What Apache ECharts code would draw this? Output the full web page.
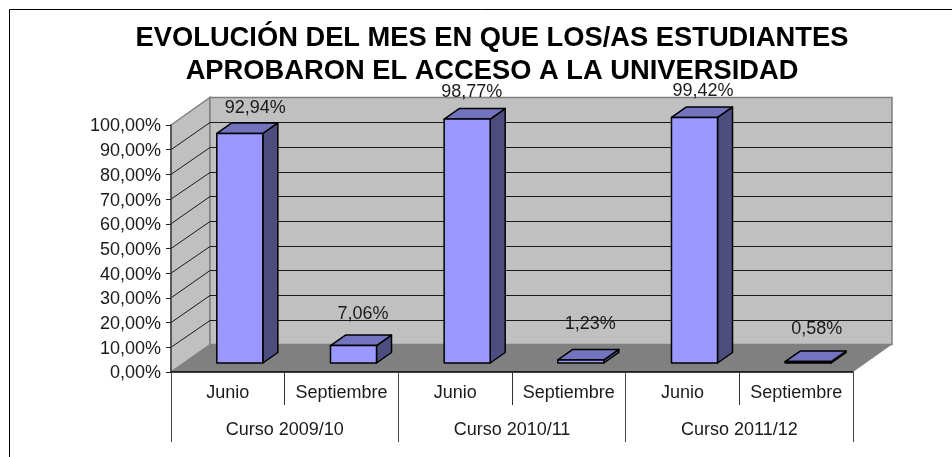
<!DOCTYPE html>
<html>
<head>
<meta charset="utf-8">
<style>
  html, body { margin: 0; padding: 0; background: #fff; }
  #main { width: 952px; height: 457px; }
</style>
<script src="https://cdn.jsdelivr.net/npm/echarts@6/dist/echarts.min.js"></script>
</head>
<body>
<div id="main"></div>
<script>
var meses = ['Junio', 'Septiembre', 'Junio', 'Septiembre', 'Junio', 'Septiembre'];
var cursos = ['Curso 2009/10', 'Curso 2010/11', 'Curso 2011/12'];
var valores = [92.94, 7.06, 98.77, 1.23, 99.42, 0.58];
var marcasY = [0, 10, 20, 30, 40, 50, 60, 70, 80, 90, 100];

var fuente = '"Liberation Sans", Arial, sans-serif';

// profundidad del "3D" en pixeles
var fondoX = 39, fondoY = -27.5;
var barraX = 12, barraY = -9;
var cuboX = 15, cuboY = -10.5;
var anchoBarra = 0.405; // fraccion del hueco de categoria

// ajuste a mano de las etiquetas, Excel no las centra igual
var ajusteEtiqueta = [[8, 2], [2, -5], [-3, 0], [2, -9], [1, 1], [1, -6]];

var chart = echarts.init(document.getElementById('main'));

function numero(v) {
    return v.toFixed(2).replace('.', ',') + '%';
}

function pintarParedes(params, api) {
    var g = params.coordSys;
    var v = api.value(0);
    var y = api.coord([0, v])[1];
    var der = g.x + g.width;
    var hijos = [];
    if (params.dataIndex === 0) {
        var arriba = g.y, abajo = g.y + g.height;
        // pared lateral
        hijos.push({
            type: 'polygon',
            shape: { points: [[g.x, arriba], [g.x + fondoX, arriba + fondoY], [g.x + fondoX, abajo + fondoY], [g.x, abajo]] },
            style: { fill: '#c0c0c0', stroke: '#808080', lineWidth: 1.5 }
        });
        // pared del fondo
        hijos.push({
            type: 'rect',
            shape: { x: g.x + fondoX, y: arriba + fondoY, width: g.width, height: g.height },
            style: { fill: '#c0c0c0', stroke: '#808080', lineWidth: 1.5 }
        });
        // suelo
        hijos.push({
            type: 'polygon',
            z2: 5,
            shape: { points: [[g.x, abajo], [der, abajo], [der + fondoX, abajo + fondoY], [g.x + fondoX, abajo + fondoY]] },
            style: { fill: '#808080' }
        });
    } else if (v !== 100) {
        var yFondo = Math.round(y + fondoY) + 0.5;
        hijos.push({
            type: 'polyline',
            z2: 2,
            shape: { points: [[g.x, y], [g.x + fondoX, yFondo], [der + fondoX, yFondo]] },
            style: { fill: null, stroke: '#1a1a1a', lineWidth: 1 }
        });
    }
    return { type: 'group', children: hijos };
}

function pintarBarra(params, api) {
    var i = params.dataIndex;
    var cima = api.coord([api.value(0), api.value(1)]);
    var base = api.coord([api.value(0), 0]);
    var w = api.size([1, 0])[0] * anchoBarra;
    var x0 = base[0] - w / 2 + barraX, x1 = x0 + w;
    var y0 = cima[1] + barraY, y1 = base[1] + barraY;
    var borde = { stroke: '#000', lineWidth: 1.5, lineJoin: 'round' };
    var aj = ajusteEtiqueta[i];
    return {
        type: 'group',
        children: [
            {
                type: 'polygon',
                shape: { points: [[x1, y0], [x1 + cuboX, y0 + cuboY], [x1 + cuboX, y1 + cuboY], [x1, y1]] },
                style: Object.assign({ fill: '#4d4d80' }, borde)
            },
            {
                type: 'polygon',
                shape: { points: [[x0, y0], [x1, y0], [x1 + cuboX, y0 + cuboY], [x0 + cuboX, y0 + cuboY]] },
                style: Object.assign({ fill: '#7373bf' }, borde)
            },
            {
                type: 'rect',
                shape: { x: x0, y: y0, width: w, height: y1 - y0 },
                style: Object.assign({ fill: '#9999ff' }, borde)
            },
            {
                type: 'text',
                x: base[0] + fondoX / 2 + aj[0],
                y: cima[1] - 36 + aj[1],
                style: {
                    text: numero(api.value(1)),
                    font: '18px ' + fuente,
                    fill: '#1a1a1a',
                    align: 'center',
                    verticalAlign: 'middle'
                }
            }
        ]
    };
}

var option = {
    animation: false,
    backgroundColor: '#fff',
    textStyle: { fontFamily: fuente },
    title: {
        text: 'EVOLUCIÓN DEL MES EN QUE LOS/AS ESTUDIANTES\nAPROBARON EL ACCESO A LA UNIVERSIDAD',
        left: 487,
        top: 17,
        textAlign: 'center',
        textStyle: { fontFamily: fuente, fontSize: 27.3, fontWeight: 'bold', color: '#000', lineHeight: 33 }
    },
    graphic: [{
        type: 'rect',
        shape: { x: 9.5, y: 9.5, width: 1000, height: 500 },
        style: { fill: null, stroke: '#000', lineWidth: 1 },
        silent: true
    }],
    grid: { left: 171, width: 682, top: 125, height: 247 },
    xAxis: [{
        type: 'category',
        data: meses,
        z: 5,
        axisLine: { lineStyle: { color: '#000', width: 1.5 } },
        axisTick: { show: true, length: 33, lineStyle: { color: '#333' } },
        axisLabel: { margin: 12, fontSize: 18, color: '#1a1a1a', fontFamily: fuente, interval: 0 }
    }, {
        type: 'category',
        data: cursos,
        position: 'bottom',
        z: 5,
        axisLine: { show: false },
        axisTick: { show: true, length: 70, lineStyle: { color: '#444' } },
        axisLabel: { margin: 49, fontSize: 18, color: '#1a1a1a', fontFamily: fuente, interval: 0 }
    }],
    yAxis: {
        type: 'value',
        min: 0,
        max: 100,
        interval: 10,
        z: 5,
        splitLine: { show: false },
        axisLine: { show: true, lineStyle: { color: '#444', width: 1.5 } },
        axisTick: { show: true, length: 5, lineStyle: { color: '#222' } },
        axisLabel: {
            margin: 10,
            fontSize: 18,
            color: '#1a1a1a',
            fontFamily: fuente,
            verticalAlign: 'top',
            lineHeight: 3,
            formatter: function (v) { return numero(v); }
        }
    },
    series: [{
        name: 'paredes',
        type: 'custom',
        z: 1,
        silent: true,
        renderItem: pintarParedes,
        encode: { y: 0 },
        data: marcasY.map(function (v) { return [v]; })
    }, {
        name: 'aprobados',
        type: 'custom',
        z: 3,
        renderItem: pintarBarra,
        encode: { x: 0, y: 1 },
        data: valores.map(function (v, i) { return [i, v]; })
    }]
};
chart.setOption(option);
</script>
</body>
</html>
